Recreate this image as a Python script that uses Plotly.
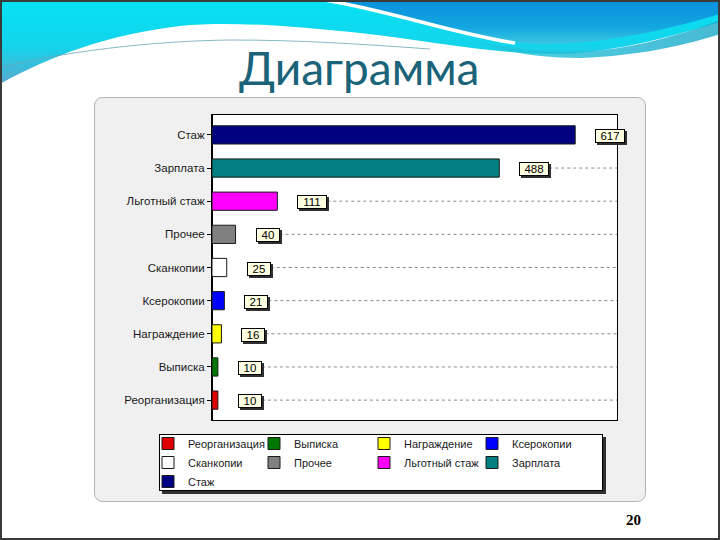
import base64
import plotly.graph_objects as go

# ---- data ----
categories = ["Реорганизация", "Выписка", "Награждение", "Ксерокопии", "Сканкопии",
              "Прочее", "Льготный стаж", "Зарплата", "Стаж"]
values = [10, 10, 16, 21, 25, 40, 111, 488, 617]
colors = ["#e00000", "#007800", "#ffff00", "#0000ff", "#ffffff",
          "#808080", "#ff00ff", "#008080", "#000080"]
title_text = "Диаграмма"
slide_number = "20"

# ---- layout geometry (pixels) ----
W, H = 720, 540
L, R, T, B = 212, 617, 115, 420
PW, PH = R - L, B - T
XMAX = 688


def px(x):
    return (x - L) / PW


def py(y):
    return (B - y) / PH


# ---- decorative slide background (svg) ----
svg = f"""<svg xmlns='http://www.w3.org/2000/svg' width='{W}' height='{H}' viewBox='0 0 {W} {H}'>
<defs>
<linearGradient id='cy' x1='0' y1='0' x2='0' y2='1'>
<stop offset='0' stop-color='#06e2f2'/><stop offset='0.55' stop-color='#14d4ec'/><stop offset='1' stop-color='#5aa8cc'/>
</linearGradient>
<linearGradient id='bl' x1='0' y1='0' x2='0' y2='1'>
<stop offset='0' stop-color='#0a8fdc'/><stop offset='0.6' stop-color='#12a6e0'/><stop offset='1' stop-color='#3cc6e0'/>
</linearGradient>
<linearGradient id='tl' x1='0' y1='0' x2='1' y2='0'>
<stop offset='0' stop-color='#20c8e0'/><stop offset='1' stop-color='#1aa8c8'/>
</linearGradient>
</defs>
<rect x='0' y='0' width='{W}' height='{H}' fill='#ffffff'/>
<path d='M0,0 L720,0 L720,22 C680,34 620,52 560,54 C500,55 430,41 360,33 C290,26 230,21 180,26 C110,34 50,56 0,84 Z' fill='url(#cy)'/>
<path d='M470,40 C520,52 580,56 630,46 C670,38 700,28 720,20 L720,34 C690,44 640,56 580,58 C530,58 500,50 470,40 Z' fill='url(#tl)' opacity='0.8'/>
<path d='M330,0 L720,0 L720,14 C660,32 600,44 545,44 C485,44 420,22 330,0 Z' fill='url(#bl)'/>
<path d='M325,0 C395,12 455,34 515,43' stroke='#ffffff' stroke-width='3.5' fill='none'/>
<path d='M0,68 C60,52 150,41 230,40 C300,40 360,44 430,49' stroke='#6aa6b6' stroke-width='1' fill='none' opacity='0.8'/>
<rect x='94.5' y='97.5' width='551' height='404' rx='8' ry='8' fill='#f0f0f0' stroke='#b4b4b4' stroke-width='1'/>
<rect x='162' y='437' width='444' height='57' fill='#303030'/>
<rect x='159.5' y='434.5' width='443' height='56' fill='#ffffff' stroke='#000000' stroke-width='1'/>
<rect x='1' y='1' width='718' height='538' fill='none' stroke='#3a3a3a' stroke-width='2'/>
</svg>"""
svg_uri = "data:image/svg+xml;base64," + base64.b64encode(svg.encode("utf-8")).decode("ascii")

fig = go.Figure()

legend_names = ["legend", "legend2", "legend3", "legend4"]
for i, (cat, val, col) in enumerate(zip(categories, values, colors)):
    fig.add_trace(go.Bar(
        y=[cat], x=[val], orientation="h", name=cat,
        marker=dict(color=col, line=dict(color="#1a1a1a", width=1)),
        width=0.55, legend=legend_names[i % 4], hoverinfo="x+y",
    ))

# value label boxes + dashed leader lines
pxu = PW / XMAX
XSHIFT = 20
annotations = []
shapes = [dict(type="rect", xref="paper", yref="paper", x0=0, x1=1, y0=0, y1=1,
               fillcolor="#ffffff", line=dict(width=0), layer="below")]
for cat, val in zip(categories, values):
    s = str(val)
    bw = 6 * len(s) + 10
    annotations.append(dict(x=val, y=cat, xref="x", yref="y", text=" ", showarrow=False,
                            xanchor="left", yanchor="middle", xshift=XSHIFT + 2, yshift=-3,
                            width=bw, height=12, borderpad=0, borderwidth=1,
                            bgcolor="#303030", bordercolor="#303030"))
    annotations.append(dict(x=val, y=cat, xref="x", yref="y", text=s, showarrow=False,
                            xanchor="left", yanchor="middle", xshift=XSHIFT, yshift=-1,
                            width=bw, height=12, borderpad=0, borderwidth=1,
                            bgcolor="#ffffe1", bordercolor="#000000",
                            font=dict(family="Arial", size=11.5, color="#000000")))
    x0 = val + (XSHIFT + bw + 2) / pxu
    if x0 < XMAX:
        shapes.append(dict(type="line", xref="x", yref="y", x0=x0, x1=XMAX, y0=cat, y1=cat,
                           line=dict(color="#8a8a8a", width=1, dash="3px,3px"), layer="below"))

annotations.append(dict(x=px(359), y=py(68), xref="paper", yref="paper", text=title_text,
                        showarrow=False, xanchor="center", yanchor="middle",
                        font=dict(family="Lato", size=46, color="#1b6379")))
annotations.append(dict(x=px(633), y=py(520), xref="paper", yref="paper",
                        text="<b>" + slide_number + "</b>",
                        showarrow=False, xanchor="center", yanchor="middle",
                        font=dict(family="Liberation Serif", size=15, color="#000000")))

legend_text_x = [188, 294, 404, 512]
legend_common = dict(orientation="v", xanchor="left", yanchor="top", traceorder="normal",
                     bgcolor="rgba(0,0,0,0)", borderwidth=0,
                     font=dict(family="Arial", size=11, color="#1a1a1a"))
legend_layout = {}
for name, tx in zip(legend_names, legend_text_x):
    legend_layout[name] = dict(x=px(tx - 40), y=py(429), **legend_common)

fig.update_layout(
    width=W, height=H,
    margin=dict(l=L, r=W - R, t=T, b=H - B, autoexpand=False),
    paper_bgcolor="#ffffff", plot_bgcolor="rgba(0,0,0,0)",
    barmode="overlay", showlegend=True,
    images=[dict(source=svg_uri, xref="paper", yref="paper", x=px(0), y=py(0),
                 sizex=W / PW, sizey=H / PH, xanchor="left", yanchor="top",
                 sizing="stretch", layer="below")],
    shapes=shapes, annotations=annotations,
    xaxis=dict(range=[0, XMAX], showticklabels=False, ticks="", showgrid=False,
               zeroline=True, zerolinecolor="#000000", zerolinewidth=2,
               showline=True, linecolor="#000000", linewidth=1, mirror=True, fixedrange=True),
    yaxis=dict(type="category", categoryorder="array", categoryarray=categories,
               range=[-0.6, len(categories) - 0.4], showgrid=False, zeroline=False,
               showline=True, linecolor="#000000", linewidth=1, mirror=True,
               ticks="outside", ticklen=4, tickcolor="#000000", automargin=False,
               tickfont=dict(family="Arial", size=11.5, color="#1a1a1a"), fixedrange=True),
    **legend_layout,
)

fig.write_html("out.html", config={"displayModeBar": False},
               post_script="document.body.style.margin='0px';")
